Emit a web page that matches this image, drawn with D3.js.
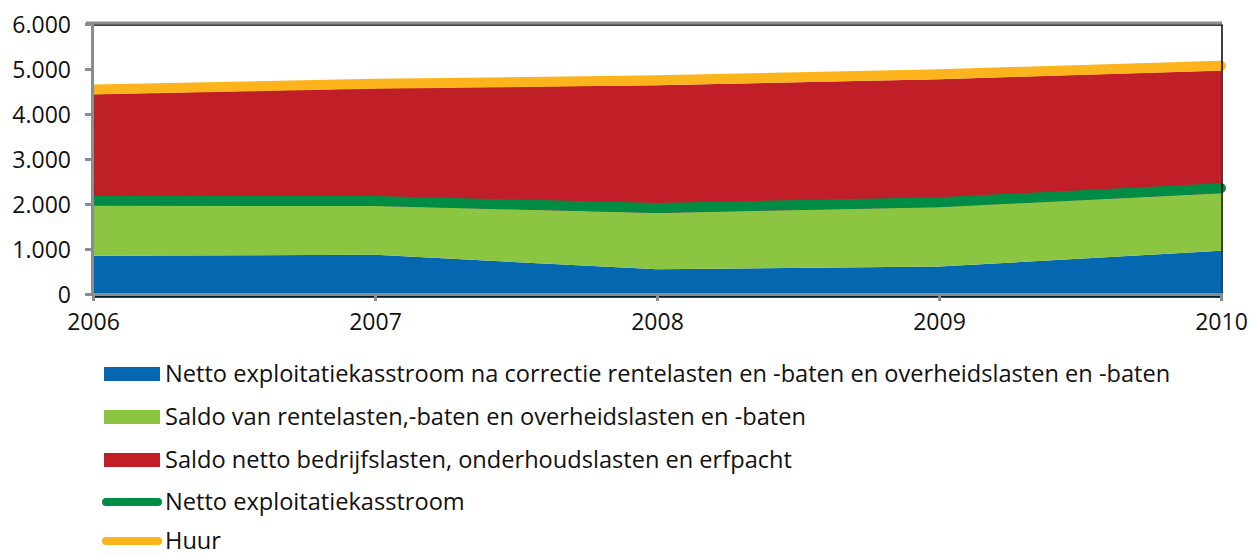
<!DOCTYPE html>
<html>
<head>
<meta charset="utf-8">
<script src="https://cdn.jsdelivr.net/npm/d3@7"></script>
<style>
  body { margin: 0; background: #fff; }
  svg { display: block; font-family: "Open Sans", sans-serif; }
</style>
</head>
<body>
<svg id="chart" width="1252" height="557"></svg>
<script>
// data
var years = [2006, 2007, 2008, 2009, 2010];
var nettoNaCorrectie = [850, 870, 550, 610, 960];
var saldoRente = [1120, 1090, 1250, 1325, 1280];
var saldoBedrijf = [2470, 2610, 2840, 2840, 2725];
var nettoExploitatie = [2075, 2065, 1910, 2040, 2350];
var huur = [4545, 4670, 4750, 4885, 5070];
var yTicks = [0, 1000, 2000, 3000, 4000, 5000, 6000];

var legendLabels = [
  "Netto exploitatiekasstroom na correctie rentelasten en -baten en overheidslasten en -baten",
  "Saldo van rentelasten,-baten en overheidslasten en -baten",
  "Saldo netto bedrijfslasten, onderhoudslasten en erfpacht",
  "Netto exploitatiekasstroom",
  "Huur"
];

var colors = {
  blue: "#0467b0",
  lightGreen: "#8bc541",
  red: "#c01f27",
  green: "#008c45",
  yellow: "#fbb41c"
};

var svg = d3.select("#chart");
// note: "top" is taken by window.top, so use plotTop etc
var plotLeft = 93, plotRight = 1221, plotTop = 24, plotBottom = 294;
var fontSize = "23px";

var x = d3.scaleLinear().domain([2006, 2010]).range([plotLeft, plotRight]);
var y = d3.scaleLinear().domain([0, 6000]).range([plotBottom, plotTop]);

var nl = d3.formatLocale({ decimal: ",", thousands: ".", grouping: [3], currency: ["", ""] });
var fmt = nl.format(",");

// clip so the round caps don't stick out left of the y axis
svg.append("defs").append("clipPath").attr("id", "clip")
  .append("rect").attr("x", plotLeft).attr("y", 0).attr("width", 1252 - plotLeft).attr("height", plotBottom + 3);

// stacked areas
var rows = years.map(function (yr, i) {
  return { year: yr, a: nettoNaCorrectie[i], b: saldoRente[i], c: saldoBedrijf[i] };
});
var stack = d3.stack().keys(["a", "b", "c"]);
var layers = stack(rows);
var areaColors = [colors.blue, colors.lightGreen, colors.red];

var area = d3.area()
  .x(function (d) { return x(d.data.year); })
  .y0(function (d) { return d[0] === 0 ? y(0) + 3 : y(d[0]); })
  .y1(function (d) { return y(d[1]); });

svg.append("g").selectAll("path")
  .data(layers)
  .join("path")
  .attr("d", area)
  .attr("fill", function (d, i) { return areaColors[i]; });

// lines
var line = d3.line()
  .x(function (d, i) { return x(years[i]); })
  .y(function (d) { return y(d); });

var lineG = svg.append("g").attr("clip-path", "url(#clip)");
[[nettoExploitatie, colors.green], [huur, colors.yellow]].forEach(function (s) {
  lineG.append("path")
    .attr("d", line(s[0]))
    .attr("fill", "none")
    .attr("stroke", s[1])
    .attr("stroke-width", 10)
    .attr("stroke-linecap", "round")
    .attr("stroke-linejoin", "round");
});

// plot border
svg.append("rect")
  .attr("x", plotLeft).attr("y", plotTop + 1)
  .attr("width", plotRight + 1 - plotLeft).attr("height", plotBottom + 3 - plotTop - 1)
  .attr("fill", "none").attr("stroke", "#000").attr("stroke-width", 1.5);

svg.append("line")
  .attr("x1", plotLeft - 7).attr("x2", plotRight + 1)
  .attr("y1", plotTop - 1).attr("y2", plotTop - 1)
  .attr("stroke", "#868e91").attr("stroke-width", 3);

// axes
var yAxis = d3.axisLeft(y).tickValues(yTicks).tickFormat(fmt).tickSize(7).tickPadding(14);
var gy = svg.append("g").attr("transform", "translate(" + (plotLeft - 1) + ",0)").call(yAxis);

var xAxis = d3.axisBottom(x).tickValues(years).tickFormat(d3.format("d")).tickSize(7).tickPadding(13);
var gx = svg.append("g").attr("transform", "translate(0," + plotBottom + ")").call(xAxis);

[gy, gx].forEach(function (g) {
  g.select(".domain").attr("stroke", "#868e91").attr("stroke-width", 3);
  g.selectAll(".tick line").attr("stroke", "#868e91").attr("stroke-width", 3);
  g.selectAll("text").attr("fill", "#111").style("font-size", fontSize).style("font-family", "'Open Sans', sans-serif");
});
gy.selectAll("text").attr("dy", "0.35em");

// legend
var legendY = [374, 417, 460, 502, 541];
var legend = svg.append("g");
legendLabels.forEach(function (label, i) {
  var g = legend.append("g").attr("transform", "translate(0," + legendY[i] + ")");
  if (i < 3) {
    g.append("rect")
      .attr("x", 104).attr("y", -7).attr("width", 56).attr("height", 14)
      .attr("fill", areaColors[i]);
  } else {
    g.append("line")
      .attr("x1", 106).attr("x2", 158).attr("y1", 0).attr("y2", 0)
      .attr("stroke", i === 3 ? colors.green : colors.yellow)
      .attr("stroke-width", 8).attr("stroke-linecap", "round");
  }
  g.append("text")
    .attr("x", 165).attr("y", 0).attr("dy", "0.35em")
    .attr("fill", "#111")
    .style("font-size", "23.6px")
    .text(label);
});
</script>
</body>
</html>
